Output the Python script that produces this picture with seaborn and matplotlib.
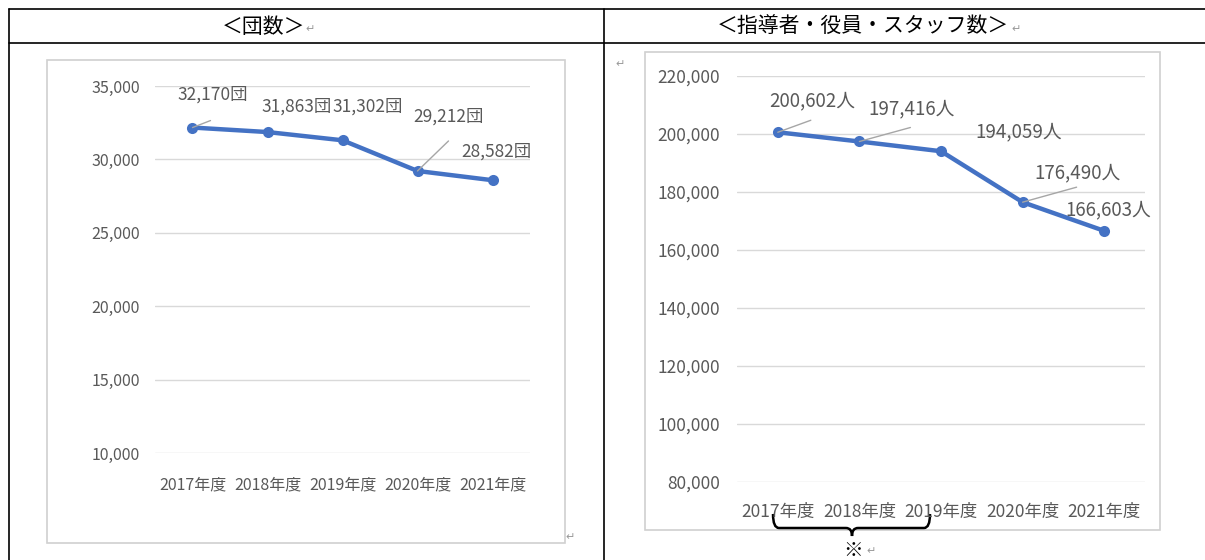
import pandas as pd
import seaborn as sns
import matplotlib.pyplot as plt
from matplotlib.patches import Rectangle
from matplotlib.path import Path
from matplotlib.patches import PathPatch

# data
years = ['2017年度', '2018年度', '2019年度', '2020年度', '2021年度']
dan = [32170, 31863, 31302, 29212, 28582]
staff = [200602, 197416, 194059, 176490, 166603]

# label offsets in pixels (dx, dy) and leader line ends (None = no leader)
dan_off = [(20, 33), (29, 25), (25, 34), (31, 54), (4, 29)]
dan_lead = [(18, 7), None, None, (31, 30), None]
staff_off = [(34, 31), (52, 33), (78, 19), (55, 29), (4, 21)]
staff_lead = [(33, 12), (51, 14), None, (54, 15), None]

sns.set_theme(style='white')
plt.rcParams['font.family'] = ['Noto Sans CJK JP', 'DejaVu Sans']

W, H = 1205, 560
fig = plt.figure(figsize=(W / 100, H / 100), dpi=100)

# page background: table and chart frames, in pixel coords
bg = fig.add_axes([0, 0, 1, 1])
bg.set_xlim(0, W)
bg.set_ylim(H, 0)
bg.axis('off')
for y in (9, 43):
    bg.plot([9, W], [y, y], color='black', lw=1.2)
for x in (9, 604):
    bg.plot([x, x], [9, H], color='black', lw=1.2)
bg.add_patch(Rectangle((47, 60), 518, 483, fill=False, ec='#D0D0D0', lw=1.2))
bg.add_patch(Rectangle((645, 52), 515, 478, fill=False, ec='#D0D0D0', lw=1.2))
bg.text(264, 27, '＜団数＞', ha='center', va='center', fontsize=15, color='black')
bg.text(310, 29, '↵', ha='center', va='center', fontsize=8, color='#999999')
bg.text(863, 27, '＜指導者・役員・スタッフ数＞', ha='center', va='center', fontsize=15, color='black')
bg.text(1016, 29, '↵', ha='center', va='center', fontsize=8, color='#999999')
bg.text(620, 64, '↵', ha='center', va='center', fontsize=8, color='#999999')
bg.text(570, 537, '↵', ha='center', va='center', fontsize=8, color='#999999')

# brace under 2017-2019
verts = [(773, 514), (773, 528), (779, 528), (846, 528), (852, 528), (852, 536),
         (852, 528), (858, 528), (924, 528), (930, 528), (930, 514)]
codes = [Path.MOVETO, Path.CURVE3, Path.CURVE3, Path.LINETO, Path.CURVE3, Path.CURVE3,
         Path.CURVE3, Path.CURVE3, Path.LINETO, Path.CURVE3, Path.CURVE3]
bg.add_patch(PathPatch(Path(verts, codes), fill=False, lw=1.8, ec='black'))
bg.text(853, 550, '※', ha='center', va='center', fontsize=14, color='black')
bg.text(871, 551, '↵', ha='center', va='center', fontsize=8, color='#999999')


def draw(rect, vals, unit, off, lead, ylim, step, tick_fs, lab_fs, xpad, ypad):
    ax = fig.add_axes([rect[0] / W, 1 - rect[3] / H, (rect[2] - rect[0]) / W, (rect[3] - rect[1]) / H])
    ax.patch.set_alpha(0)
    df = pd.DataFrame({'year': years, 'value': vals})
    sns.lineplot(data=df, x='year', y='value', sort=False, ax=ax, color='#4472C4',
                 lw=3.2, marker='o', markersize=8, markeredgewidth=0, zorder=3)
    ax.set_xlim(-0.5, len(years) - 0.5)
    ax.set_ylim(*ylim)
    ax.set_yticks(range(ylim[0], ylim[1] + 1, step))
    ax.yaxis.set_major_formatter(plt.FuncFormatter(lambda v, p: f'{int(v):,}'))
    ax.grid(axis='y', color='#D9D9D9', lw=1)
    ax.grid(axis='x', visible=False)
    for s in ax.spines.values():
        s.set_visible(False)
    ax.set_xlabel('')
    ax.set_ylabel('')
    ax.tick_params(axis='x', length=0, pad=xpad, labelsize=tick_fs, labelcolor='#595959')
    ax.tick_params(axis='y', length=0, pad=ypad, labelsize=tick_fs, labelcolor='#595959')
    for i, v in enumerate(vals):
        ax.annotate(f'{v:,}{unit}', xy=(i, v), xytext=off[i], textcoords='offset pixels',
                    ha='center', va='center', fontsize=lab_fs, color='#595959')
        if lead[i]:
            ax.annotate('', xy=(i, v), xytext=lead[i], textcoords='offset pixels',
                        arrowprops=dict(arrowstyle='-', color='#A6A6A6', lw=1,
                                        shrinkA=0, shrinkB=0))
    return ax


draw((155, 86, 530, 453), dan, '団', dan_off, dan_lead, (10000, 35000), 5000,
     11.5, 12.5, 17, 11)
draw((737, 76, 1145, 482), staff, '人', staff_off, staff_lead, (80000, 220000), 20000,
     12.5, 13.5, 15, 12)

fig.savefig('out.png', dpi=100)
